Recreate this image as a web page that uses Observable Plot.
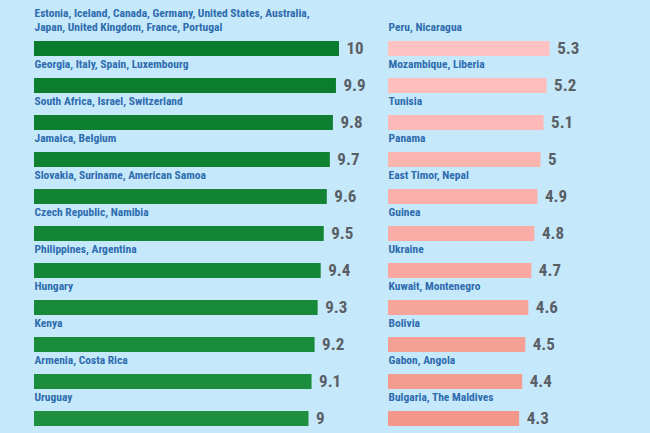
<!DOCTYPE html>
<html>
<head>
<meta charset="utf-8">
<script src="https://cdn.jsdelivr.net/npm/d3@7"></script>
<script src="https://cdn.jsdelivr.net/npm/@observablehq/plot@0.6"></script>
<style>
  html, body { margin: 0; padding: 0; background: #c6e8fb; width: 650px; height: 433px; overflow: hidden; }
  #wrap { position: relative; width: 650px; height: 433px; }
  #left, #right { position: absolute; top: 0; }
  #left { left: 0; }
  #right { left: 354px; }
  svg { overflow: visible; }
</style>
</head>
<body>
<div id="wrap"><div id="left"></div><div id="right"></div></div>
<script>
const leftLabels = [
  "Estonia, Iceland, Canada, Germany, United States, Australia,\nJapan, United Kingdom, France, Portugal",
  "Georgia, Italy, Spain, Luxembourg",
  "South Africa, Israel, Switzerland",
  "Jamaica, Belgium",
  "Slovakia, Suriname, American Samoa",
  "Czech Republic, Namibia",
  "Philippines, Argentina",
  "Hungary",
  "Kenya",
  "Armenia, Costa Rica",
  "Uruguay"
];
const leftValues = [10, 9.9, 9.8, 9.7, 9.6, 9.5, 9.4, 9.3, 9.2, 9.1, 9];

const rightLabels = [
  "Peru, Nicaragua",
  "Mozambique, Liberia",
  "Tunisia",
  "Panama",
  "East Timor, Nepal",
  "Guinea",
  "Ukraine",
  "Kuwait, Montenegro",
  "Bolivia",
  "Gabon, Angola",
  "Bulgaria, The Maldives"
];
const rightValues = [5.3, 5.2, 5.1, 5, 4.9, 4.8, 4.7, 4.6, 4.5, 4.4, 4.3];

const labelFont = "'Roboto Condensed', 'Liberation Sans Narrow', 'DejaVu Sans Condensed', Roboto, sans-serif";

function column(labels, values, colors, width) {
  const data = labels.map((label, i) => ({label, value: values[i], i}));
  return Plot.plot({
    width,
    height: 433,
    marginLeft: 34,
    marginRight: 0,
    marginTop: 0,
    marginBottom: 0,
    style: {background: "transparent", overflow: "visible"},
    x: {domain: [0, 10], range: [34, 339], axis: null},
    y: {type: "band", domain: d3.range(labels.length), range: [38, 429], paddingInner: 0.6, paddingOuter: 0, axis: null},
    color: {type: "linear", domain: [0, labels.length - 1], range: colors},
    marks: [
      Plot.barX(data, {x: "value", y: "i", fill: "i"}),
      Plot.text(data, {
        x: 0, y: "i", text: "label", textAnchor: "start", lineAnchor: "bottom",
        dy: -18, lineHeight: 1.22, fontSize: 11.5, fontWeight: "bold",
        fill: "#2e6cae", fontFamily: labelFont
      }),
      Plot.text(data, {
        x: "value", y: "i", text: d => String(d.value), textAnchor: "start",
        dx: 7, fontSize: 17, fontWeight: "bold", fill: "#5a5f66", fontFamily: labelFont
      })
    ]
  });
}

document.getElementById("left").append(column(leftLabels, leftValues, ["#0a7a2c", "#1e8f3e"], 354));
document.getElementById("right").append(column(rightLabels, rightValues, ["#ffc2c2", "#f3978a"], 296));
</script>
</body>
</html>
